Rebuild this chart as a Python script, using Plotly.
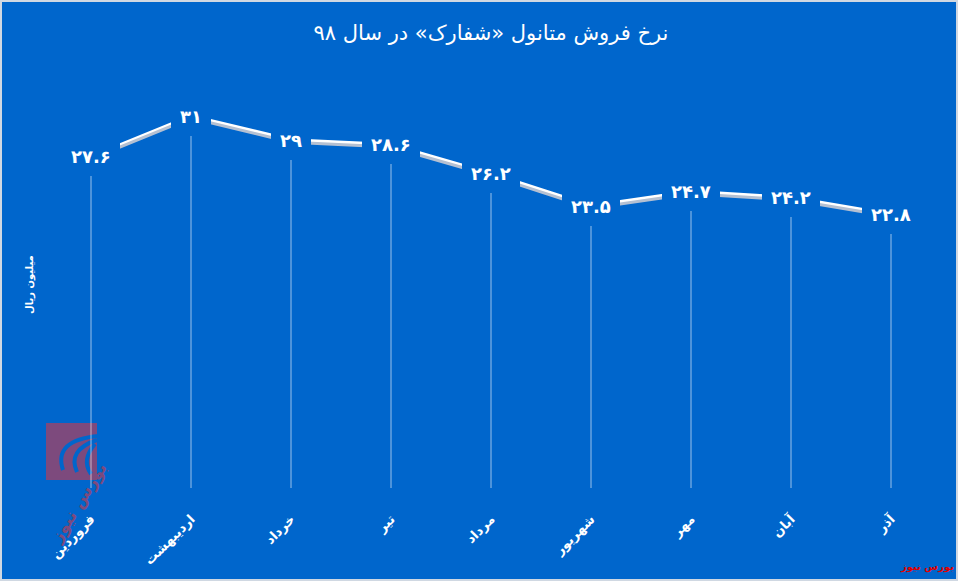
import plotly.graph_objects as go

# monthly methanol sale rate (million rial), year 1398
months = ["فروردین", "اردیبهشت", "خرداد", "تیر", "مرداد", "شهریور", "مهر", "آبان", "آذر"]
prices = [27.6, 31, 29, 28.6, 26.2, 23.5, 24.7, 24.2, 22.8]

BG = "#0066CC"
FONT = "DejaVu Sans"
W, H = 958, 581
ML, MR, MT, MB = 41, 17, 80, 93
PW, PH = W - ML - MR, H - MT - MB
Y_MAX = 34
SHADOW = 0.18  # y units, shifts the shadow line a couple of px down

fa_digits = str.maketrans("0123456789", "۰۱۲۳۴۵۶۷۸۹")


def fa(v):
    return f"{v:g}".translate(fa_digits)


def px(x, y):
    """pixel position in the window -> paper coordinates"""
    return (x - ML) / PW, (H - MB - y) / PH


fig = go.Figure()

# drop lines from each point to the axis
drop_x, drop_y = [], []
for m, v in zip(months, prices):
    drop_x += [m, m, None]
    drop_y += [0, v, None]
fig.add_trace(go.Scatter(
    x=drop_x, y=drop_y, mode="lines",
    line=dict(color="rgba(255,255,255,0.6)", width=1),
    hoverinfo="skip", showlegend=False,
))

# shadow under the main line
fig.add_trace(go.Scatter(
    x=months, y=prices, mode="lines", yaxis="y2",
    line=dict(color="#b4c0d2", width=3),
    hoverinfo="skip", showlegend=False,
))

fig.add_trace(go.Scatter(
    x=months, y=prices, mode="lines",
    line=dict(color="white", width=3.5),
    name="نرخ فروش", showlegend=False,
))

# value labels boxed in the background colour so they cut the line
for m, v in zip(months, prices):
    fig.add_annotation(
        x=m, y=v, text="<b>" + fa(v) + "</b>", showarrow=False,
        font=dict(family=FONT, size=18, color="white"),
        bgcolor=BG, borderpad=9, borderwidth=0,
    )

ax, ay = px(30, 285)
fig.add_annotation(
    xref="paper", yref="paper", x=ax, y=ay, xanchor="center", yanchor="middle",
    text="<b>میلیون ریال</b>", textangle=-90, showarrow=False,
    font=dict(family=FONT, size=10, color="white"),
)

ax, ay = px(927, 567)
fig.add_annotation(
    xref="paper", yref="paper", x=ax, y=ay, xanchor="center", yanchor="middle",
    text="<b>بورس نیوز</b>", showarrow=False,
    font=dict(family=FONT, size=10, color="#e00000"),
)

# faded logo, bottom left
x0, y0 = px(46, 480)
x1, y1 = px(97, 423)
fig.add_shape(
    type="rect", xref="paper", yref="paper", x0=x0, x1=x1, y0=y0, y1=y1,
    fillcolor="#7d4a7d", line_width=0, layer="below",
)
for i in range(3):
    sx, sy = px(99 - 2 * i, 436 + 4 * i)
    cx, cy = px(53 + 14 * i, 440 + 10 * i)
    ex, ey = px(63 + 14 * i, 470 + 2 * i)
    fig.add_shape(
        type="path", xref="paper", yref="paper",
        path=f"M {sx},{sy} Q {cx},{cy} {ex},{ey}",
        line=dict(color=BG, width=4), layer="below",
    )
ax, ay = px(78, 503)
fig.add_annotation(
    xref="paper", yref="paper", x=ax, y=ay, xanchor="center", yanchor="middle",
    text="<b>بورس نیوز</b>", textangle=-58, showarrow=False,
    font=dict(family=FONT, size=17, color="#7d4a7d"),
)

# light frame round the picture
fx0, fy0 = px(1, H - 1)
fx1, fy1 = px(W - 1, 1)
fig.add_shape(
    type="rect", xref="paper", yref="paper", x0=fx0, x1=fx1, y0=fy0, y1=fy1,
    line=dict(color="#d0d8e2", width=2), fillcolor="rgba(0,0,0,0)",
)

fig.update_layout(
    width=W, height=H,
    margin=dict(l=ML, r=MR, t=MT, b=MB),
    paper_bgcolor=BG, plot_bgcolor=BG,
    title=dict(
        text="نرخ فروش متانول «شفارک» در سال ۹۸",
        x=0.5, xref="paper", y=1 - 33 / H, yanchor="middle",
        font=dict(family=FONT, size=21, color="white"),
    ),
    xaxis=dict(
        type="category", range=[-0.5, len(months) - 0.5],
        showgrid=False, zeroline=False, showline=False, ticks="",
        tickangle=-45, ticklabelstandoff=20, automargin=False,
        tickfont=dict(family=FONT, size=13, color="white", weight="bold"),
    ),
    yaxis=dict(
        range=[0, Y_MAX], showgrid=False, zeroline=False,
        showticklabels=False, showline=False, automargin=False,
    ),
    yaxis2=dict(
        range=[SHADOW, Y_MAX + SHADOW], overlaying="y", visible=False,
    ),
    showlegend=False,
)

# drop the browser's default page margin so the figure fills the window
fig.write_html(
    "out.html",
    config={"displayModeBar": False},
    post_script="document.body.style.margin='0';document.body.style.overflow='hidden';",
)
